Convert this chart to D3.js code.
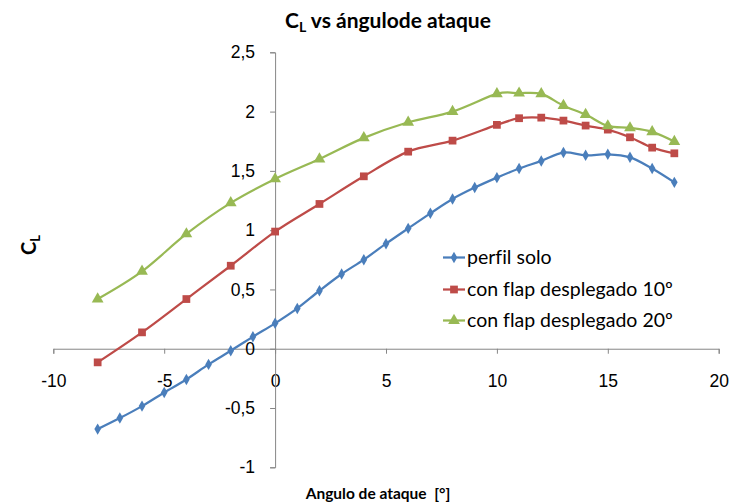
<!DOCTYPE html>
<html><head><meta charset="utf-8">
<script src="https://cdn.jsdelivr.net/npm/d3@7"></script>
<style>body{margin:0;background:#fff;} svg{display:block;font-family:Lato,"Open Sans",sans-serif;font-variant-ligatures:none;}</style>
</head><body>
<svg id="c" width="731" height="502"></svg>
<script>
const angles = [-8,-7,-6,-5,-4,-3,-2,-1,0,1,2,3,4,5,6,7,8,9,10,11,12,13,14,15,16,17,18];
const perfilSolo = [-0.678,-0.585,-0.484,-0.369,-0.259,-0.132,-0.017,0.101,0.214,0.340,0.489,0.630,0.751,0.886,1.015,1.142,1.263,1.359,1.443,1.520,1.584,1.654,1.631,1.640,1.614,1.520,1.403];
const angles10 = [-8,-6,-4,-2,0,2,4,6,8,10,11,12,13,14,15,16,17,18];
const flap10 = [-0.115,0.138,0.419,0.700,0.988,1.221,1.454,1.662,1.755,1.888,1.944,1.949,1.924,1.882,1.848,1.783,1.696,1.648];
const angles20 = [-8,-6,-4,-2,0,2,4,6,8,10,11,12,13,14,15,16,17,18];
const flap20 = [0.419,0.652,0.968,1.230,1.432,1.600,1.778,1.910,2.000,2.149,2.155,2.149,2.050,1.975,1.879,1.862,1.829,1.747];
const seriesNames = ["perfil solo","con flap desplegado 10º","con flap desplegado 20º"];
const xTicks = [-10,-5,0,5,10,15,20];
const yTicks = [-1,-0.5,0,0.5,1,1.5,2,2.5];

const colors = ["#4A7EBB","#BE4B48","#98B954"];
const symbols = [d3.symbolDiamond, d3.symbolSquare, d3.symbolTriangle];
const symSizes = [38, 60, 60];

const svg = d3.select("#c");
const x = d3.scaleLinear().domain([-10,20]).range([53.3,718.7]);
const y = d3.scaleLinear().domain([-1,2.5]).range([467.3,52.3]);
const axisColor = "#868686";
const fmt = d => String(d).replace(".", ",");

// x axis at y=0
const gx = svg.append("g").attr("transform",`translate(0,${y(0)})`)
  .call(d3.axisBottom(x).tickValues(xTicks).tickSize(5).tickFormat(d=>d));
gx.selectAll("text").attr("dy","0").attr("y",38).style("font-size","17.5px").attr("fill","#000");
// y axis at x=0
const gy = svg.append("g").attr("transform",`translate(${x(0)},0)`)
  .call(d3.axisLeft(y).tickValues(yTicks).tickSize(5).tickFormat(fmt));
gy.selectAll("text").attr("x",-20).style("font-size","17.5px").attr("fill","#000");
svg.selectAll(".domain, .tick line").attr("stroke",axisColor).attr("stroke-width",1);

const data = [
  angles.map((a,i)=>[a,perfilSolo[i]]),
  angles10.map((a,i)=>[a,flap10[i]]),
  angles20.map((a,i)=>[a,flap20[i]])
];
const line = d3.line().x(d=>x(d[0])).y(d=>y(d[1])).curve(d3.curveCatmullRom.alpha(0));

data.forEach((pts,k)=>{
  svg.append("path").datum(pts).attr("d",line).attr("fill","none")
    .attr("stroke",colors[k]).attr("stroke-width",2.25);
  svg.append("g").selectAll("path").data(pts).join("path")
    .attr("transform",d=>`translate(${x(d[0])},${y(d[1])})`)
    .attr("d",d3.symbol().type(symbols[k]).size(symSizes[k]))
    .attr("fill",colors[k]);
});

// legend
const legY = [257.5, 289.5, 320.5];
seriesNames.forEach((n,k)=>{
  const g = svg.append("g").attr("transform",`translate(443,${legY[k]})`);
  g.append("line").attr("x1",0).attr("x2",22).attr("y1",0).attr("y2",0)
    .attr("stroke",colors[k]).attr("stroke-width",2.25);
  g.append("path").attr("transform","translate(11,0)")
    .attr("d",d3.symbol().type(symbols[k]).size(symSizes[k])).attr("fill",colors[k]);
  g.append("text").attr("x",24).attr("dy","0.35em").style("font-size","19.5px").text(n);
});

// titles
const t = svg.append("text").attr("x",388).attr("y",28).attr("text-anchor","middle")
  .style("font-size","21px").style("font-weight","bold");
t.append("tspan").text("C");
t.append("tspan").attr("dy",4).style("font-size","14px").text("L");
t.append("tspan").attr("dy",-4).text(" vs ángulode ataque");

const yt = svg.append("text").attr("transform","translate(36,245) rotate(-90)")
  .attr("text-anchor","middle").style("font-size","20px").style("font-weight","bold");
yt.append("tspan").text("C");
yt.append("tspan").attr("dy",4).style("font-size","13px").text("L");

svg.append("text").attr("x",378).attr("y",499).attr("text-anchor","middle")
  .style("font-size","15.5px").style("font-weight","bold").style("white-space","pre")
  .text("Angulo de ataque  [°]");
</script>
</body></html>
